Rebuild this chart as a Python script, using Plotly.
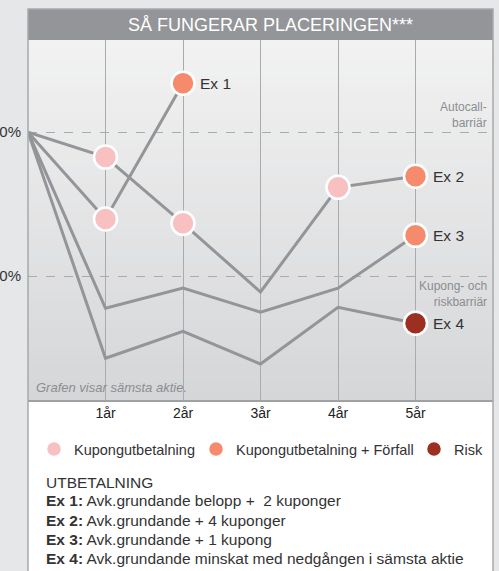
import plotly.graph_objects as go

# ---------------- data ----------------
years = [0, 1, 2, 3, 4, 5]
tick_vals = [1, 2, 3, 4, 5]
tick_text = ["1år", "2år", "3år", "4år", "5år"]

ex1_vals = [100, 81.9, 110.2]
ex2_vals = [100, 94.8, 81.0, 66.7, 88.5, 90.8]
ex3_vals = [100, 63.3, 67.5, 62.5, 67.5, 78.5]
ex4_vals = [100, 52.9, 58.5, 51.7, 63.5, 60.2]

# marker status per point: None = no marker
ex1_status = [None, "kup", "forf"]
ex2_status = [None, "kup", "kup", None, "kup", "forf"]
ex3_status = [None, None, None, None, None, "forf"]
ex4_status = [None, None, None, None, None, "risk"]

series_names = ["Ex 1", "Ex 2", "Ex 3", "Ex 4"]
series_vals = [ex1_vals, ex2_vals, ex3_vals, ex4_vals]
series_status = [ex1_status, ex2_status, ex3_status, ex4_status]

barrier_vals = [100, 70]
barrier_tick_text = ["100%", "70%"]
barrier_labels = ["Autocall-<br>barriär", "Kupong- och<br>riskbarriär"]

legend_keys = ["kup", "forf", "risk"]
legend_names = ["Kupongutbetalning", "Kupongutbetalning + Förfall", "Risk"]
legend_colors = ["#f9c0c1", "#f58b6c", "#9c2f1f"]

title_text = "SÅ FUNGERAR PLACERINGEN***"
note_text = "Grafen visar sämsta aktie."
payout_lines = [
    "UTBETALNING",
    "<b>Ex 1:</b> Avk.grundande belopp +  2 kuponger",
    "<b>Ex 2:</b> Avk.grundande + 4 kuponger",
    "<b>Ex 3:</b> Avk.grundande + 1 kupong",
    "<b>Ex 4:</b> Avk.grundande minskat med nedgången i sämsta aktie",
]

# ---------------- layout geometry ----------------
W, H = 499, 571
ML, MR, MT, MB = 28, 6, 40, 171
PH = H - MT - MB
PW = W - ML - MR
FONT = "Liberation Sans, Arial, sans-serif"
LINE_COLOR = "#939598"

def py(px):
    """pixel y (from top) -> paper y"""
    return (H - MB - px) / PH

def pxx(px):
    return (px - ML) / PW

fig = go.Figure()

# lines
for name, vals in zip(series_names, series_vals):
    fig.add_trace(go.Scatter(
        x=years[:len(vals)], y=vals, mode="lines",
        line=dict(color=LINE_COLOR, width=3),
        showlegend=False, hoverinfo="skip"))

# markers grouped by status (also legend entries, one legend each)
legend_ids = ["legend", "legend2", "legend3"]
legend_x_px = [34, 196, 414]
for key, lname, col, lid in zip(legend_keys, legend_names, legend_colors, legend_ids):
    xs, ys = [], []
    for vals, stat in zip(series_vals, series_status):
        for i, s in enumerate(stat):
            if s == key:
                xs.append(years[i]); ys.append(vals[i])
    fig.add_trace(go.Scatter(
        x=xs, y=ys, mode="markers", name=lname, legend=lid,
        marker=dict(size=23, color=col, line=dict(color="white", width=2.5)),
        hoverinfo="skip"))

annotations = []
# end labels
for name, vals in zip(series_names, series_vals):
    annotations.append(dict(
        x=years[len(vals) - 1], y=vals[-1], text=name, showarrow=False,
        xanchor="left", yanchor="middle", xshift=15,
        font=dict(size=15.5, color="#333333", family=FONT)))

# barrier labels
annotations.append(dict(x=6, y=barrier_vals[0], text=barrier_labels[0], showarrow=False,
                        xanchor="right", yanchor="bottom", align="right", xshift=-4, yshift=0,
                        font=dict(size=12, color="#8b8d90", family=FONT)))
annotations.append(dict(x=6, y=barrier_vals[1], text=barrier_labels[1], showarrow=False,
                        xanchor="right", yanchor="top", align="right", xshift=-4, yshift=-1,
                        font=dict(size=12, color="#8b8d90", family=FONT)))

# note
annotations.append(dict(xref="paper", yref="paper", x=0, y=0, xshift=6, yshift=3,
                        text="<i>" + note_text + "</i>", showarrow=False,
                        xanchor="left", yanchor="bottom",
                        font=dict(size=13, color="#8b8d90", family=FONT)))

# header
annotations.append(dict(xref="paper", yref="paper", x=pxx(270.5), y=py(25), text=title_text,
                        showarrow=False, xanchor="center", yanchor="middle",
                        font=dict(size=18, color="white", family=FONT)))

# payout text
row_y = [482, 501, 520, 539, 558]
for txt, ry in zip(payout_lines, row_y):
    annotations.append(dict(xref="paper", yref="paper", x=pxx(44), y=py(ry), text=txt,
                            showarrow=False, xanchor="left", yanchor="middle",
                            font=dict(size=15.5, color="#333333", family=FONT)))

shapes = []
# white panel
shapes.append(dict(type="rect", xref="paper", yref="paper", x0=0, x1=1,
                   y0=py(H + 5), y1=py(9), fillcolor="white", line=dict(width=0), layer="below"))
# gradient bands in plot area
nb = 40
top = (242, 242, 242)
bot = (213, 214, 216)
for i in range(nb):
    t = (i + 0.5) / nb
    c = tuple(int(round(bot[k] + (top[k] - bot[k]) * t)) for k in range(3))
    shapes.append(dict(type="rect", xref="paper", yref="paper", x0=0, x1=1,
                       y0=i / nb, y1=(i + 1) / nb + 0.002,
                       fillcolor="rgb(%d,%d,%d)" % c, line=dict(width=0), layer="below"))
# header bar
shapes.append(dict(type="rect", xref="paper", yref="paper", x0=0, x1=1,
                   y0=1, y1=py(9), fillcolor="#939598", line=dict(width=0), layer="below"))
# panel border
shapes.append(dict(type="rect", xref="paper", yref="paper", x0=0, x1=1,
                   y0=py(H + 5), y1=py(9), fillcolor="rgba(0,0,0,0)",
                   line=dict(color="#a7a9ac", width=1.5), layer="above"))

legend_common = dict(orientation="h", xanchor="left", yanchor="middle",
                     font=dict(size=14.5, color="#333333", family=FONT),
                     bgcolor="rgba(0,0,0,0)", itemsizing="trace", tracegroupgap=0)
legends = {}
for lid, lx in zip(legend_ids, legend_x_px):
    legends[lid] = dict(x=pxx(lx), y=py(449), **legend_common)

fig.update_layout(
    width=W, height=H,
    margin=dict(l=ML, r=MR, t=MT, b=MB, pad=0, autoexpand=False),
    paper_bgcolor="#e6e7e8",
    plot_bgcolor="rgba(0,0,0,0)",
    font=dict(family=FONT, color="#333333"),
    shapes=shapes,
    annotations=annotations,
    showlegend=True,
    hovermode=False,
    xaxis=dict(range=[0, 6], tickvals=tick_vals, ticktext=tick_text, automargin=False,
               showgrid=True, gridcolor="#a9abae", gridwidth=1, zeroline=False,
               showline=True, linecolor="#9fa1a4", linewidth=1.5,
               ticks="", tickfont=dict(size=14, color="#222222", family=FONT),
               fixedrange=True),
    yaxis=dict(range=[44.2, 119.2], tickvals=barrier_vals, ticktext=barrier_tick_text,
               automargin=False,
               showgrid=True, gridcolor="#a9abae", gridwidth=1, griddash="dash",
               zeroline=False, showline=False, ticks="",
               tickfont=dict(size=15, color="#333333", family=FONT), ticklabelstandoff=6,
               fixedrange=True),
    **legends,
)

fig.write_html("out.html", config={"displayModeBar": False, "staticPlot": True},
               post_script="document.body.style.margin='0';document.body.style.background='#e6e7e8';")
